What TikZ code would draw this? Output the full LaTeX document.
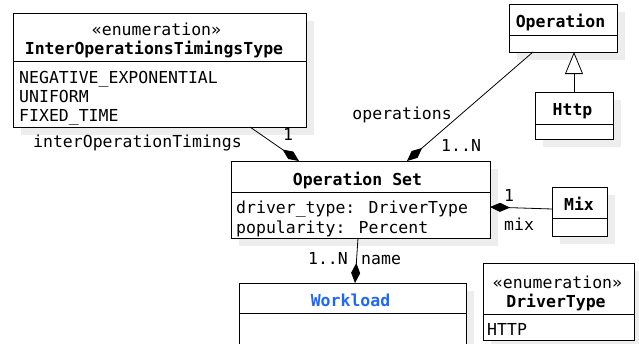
\documentclass[tikz,border=0pt]{standalone}
\usepackage{fontspec}
\setmainfont{DejaVu Sans Mono}
\usetikzlibrary{arrows.meta}

\definecolor{shade}{gray}{0.93}
\definecolor{linkblue}{RGB}{31,104,245}

\tikzset{
  umlbox/.style={draw=black, fill=white, line width=0.9pt},
  umlshadow/.style={fill=shade, draw=none},
  divider/.style={line width=0.9pt},
  txt/.style={inner sep=0pt, anchor=base, font=\fontsize{16.5}{19}\selectfont},
  title/.style={txt, font=\fontsize{16.5}{19}\selectfont\bfseries},
  attr/.style={txt, anchor=base west},
  lbl/.style={txt},
  assoc/.style={line width=0.8pt, draw=black},
  comp/.style={assoc, -{Diamond[length=20pt,width=9pt]}},
  inherit/.style={assoc, -{Triangle[open,length=22pt,width=18pt,fill=white]}}
}

% class box: #1 name, #2 left, #3 top, #4 right, #5 bottom, #6 divider y
\newcommand{\umlclass}[6]{%
  \fill[umlshadow] (#2+8,#3+8) rectangle (#4+8,#5+8);
  \node[umlbox, inner sep=0pt, minimum width={#4-#2}, minimum height={#5-#3}, anchor=north west] (#1) at (#2,#3) {};
  \draw[divider] (#2,#6) -- (#4,#6);
}

\begin{document}
\begin{tikzpicture}[x=1pt, y=-1pt]
\useasboundingbox (0,0) rectangle (639,343);
\fill[white] (0,0) rectangle (639,343);
\clip (0,0) rectangle (639,343);

% ---- classes ----
\umlclass{inter}{13}{13}{306}{127}{61}
\node[txt] (interStereo) at (156.5,35) {«enumeration»};
\node[title] (interName) at (154,54) {InterOperationsTimingsType};
\node[attr] (interA1) at (19,83) {NEGATIVE\_EXPONENTIAL};
\node[attr] (interA2) at (19,102) {UNIFORM};
\node[attr] (interA3) at (19,121) {FIXED\_TIME};

\umlclass{operation}{509}{4}{617}{52}{35}
\node[title] (operationName) at (560.5,27.5) {Operation};

\umlclass{http}{535}{92}{613}{139}{124}
\node[title] (httpName) at (572.5,115) {Http};

\umlclass{opset}{231}{161}{490}{238}{192}
\node[title] (opsetName) at (357.5,185) {Operation Set};
\node[attr] (opsetA1) at (236,213.5) {driver\_type: DriverType};
\node[attr] (opsetA2) at (236,233.5) {popularity: Percent};

\umlclass{workload}{239}{283}{466}{360}{313}
\node[title, text=linkblue] (workloadName) at (350.5,306.5) {Workload};

\umlclass{mix}{552}{187}{607}{236}{218}
\node[title] (mixName) at (579,210.5) {Mix};

\umlclass{drivertype}{483}{263}{634}{340}{314}
\node[txt] (dtStereo) at (557.5,288) {«enumeration»};
\node[title] (dtName) at (556,307) {DriverType};
\node[attr] (dtA1) at (487,335) {HTTP};

% ---- connector end points on the box outlines ----
\coordinate (interOut) at (250,127);
\coordinate (opsetInter) at (299,161);
\coordinate (operationOut) at (533,52);
\coordinate (opsetOps) at (407,161);
\coordinate (mixOut) at (552,209);
\coordinate (opsetMix) at (490,207);
\coordinate (opsetOut) at (358,238);
\coordinate (workloadIn) at (355,283);
\coordinate (httpUp) at (574,92);
\coordinate (operationDown) at (574,52);

% ---- connectors ----
\draw[comp] (interOut) -- (opsetInter);
\draw[comp] (operationOut) -- (opsetOps);
\draw[comp] (mixOut) -- (opsetMix);
\draw[comp] (opsetOut) -- (workloadIn);
\draw[inherit] (httpUp) -- (operationDown);

% ---- labels ----
\node[lbl, anchor=base east] (lInter) at (242,147) {interOperationTimings};
\node[lbl] (lInterMult) at (288,140) {1};
\node[lbl, anchor=base east] (lOps) at (452,119) {operations};
\node[lbl, anchor=base west] (lOpsMult) at (441,151) {1..N};
\node[lbl] (lMixMult) at (509,201) {1};
\node[lbl, anchor=base west] (lMix) at (504,230) {mix};
\node[lbl, anchor=base east] (lWlMult) at (348,264) {1..N};
\node[lbl, anchor=base west] (lWl) at (361,264) {name};
\end{tikzpicture}
\end{document}
